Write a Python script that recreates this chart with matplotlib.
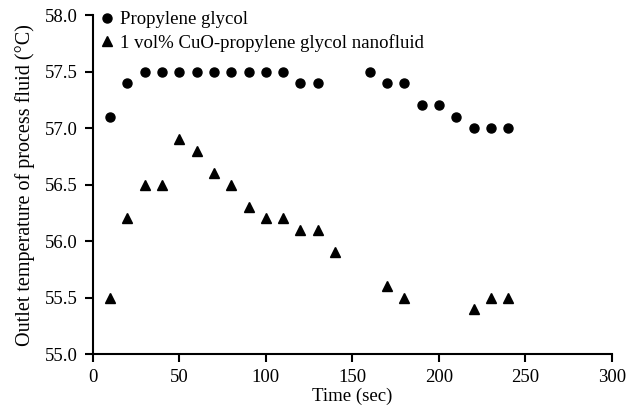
import matplotlib
matplotlib.use("Agg")
import matplotlib.pyplot as plt

# Propylene glycol
pg_time = [10, 20, 30, 40, 50, 60, 70, 80, 90, 100, 110, 120, 130,
           160, 170, 180, 190, 200, 210, 220, 230, 240]
pg_temp = [57.1, 57.4, 57.5, 57.5, 57.5, 57.5, 57.5, 57.5, 57.5, 57.5, 57.5, 57.4, 57.4,
           57.5, 57.4, 57.4, 57.2, 57.2, 57.1, 57.0, 57.0, 57.0]

# 1 vol% CuO nanofluid
nf_time = [10, 20, 30, 40, 50, 60, 70, 80, 90, 100, 110, 120, 130, 140,
           170, 180, 220, 230, 240]
nf_temp = [55.5, 56.2, 56.5, 56.5, 56.9, 56.8, 56.6, 56.5, 56.3, 56.2, 56.2, 56.1, 56.1, 55.9,
           55.6, 55.5, 55.4, 55.5, 55.5]

x_ticks = [0, 50, 100, 150, 200, 250, 300]
y_ticks = [55.0, 55.5, 56.0, 56.5, 57.0, 57.5, 58.0]

plt.rcParams['font.family'] = ['Liberation Serif', 'DejaVu Serif']
plt.rcParams['font.size'] = 13.5

fig = plt.figure(figsize=(6.27, 4.19), dpi=100)
ax = fig.add_axes([0.148, 0.155, 0.828, 0.809])

ax.plot(pg_time, pg_temp, 'o', color='black', markersize=6.5, label='Propylene glycol')
ax.plot(nf_time, nf_temp, '^', color='black', markersize=6.5,
        label='1 vol% CuO-propylene glycol nanofluid')

ax.set_xlim(0, 300)
ax.set_ylim(55.0, 58.0)
ax.set_xticks(x_ticks)
ax.set_yticks(y_ticks)
ax.set_yticklabels([f"{v:.1f}" for v in y_ticks])
ax.set_xlabel('Time (sec)', labelpad=1)
ax.set_ylabel('Outlet temperature of process fluid (\u00b0C)', fontsize=14.5, labelpad=7)

ax.spines['top'].set_visible(False)
ax.spines['right'].set_visible(False)
ax.spines['left'].set_linewidth(1.5)
ax.spines['bottom'].set_linewidth(1.5)
ax.tick_params(direction='out', width=1.5, length=6, pad=5)

ax.legend(loc='upper left', frameon=False, handletextpad=0.3, borderaxespad=0.0,
          labelspacing=0.32, handlelength=0.8, borderpad=0.0,
          bbox_to_anchor=(0.012, 1.012))

fig.savefig('out.png', dpi=100)
